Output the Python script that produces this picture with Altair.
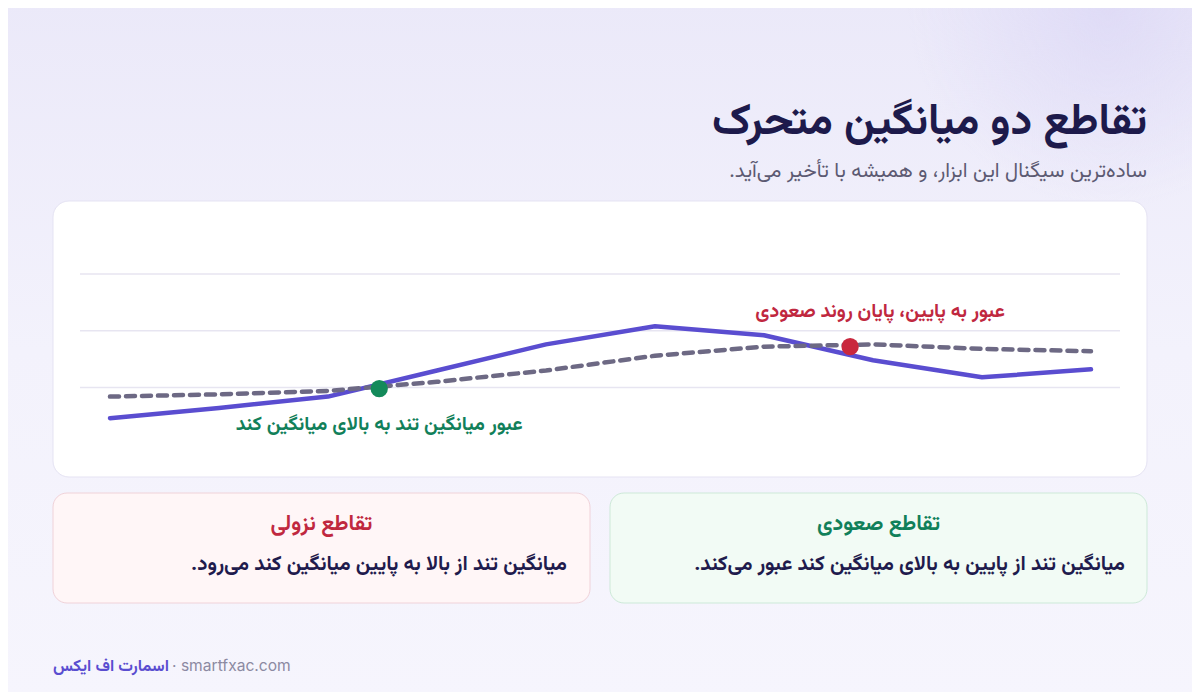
import altair as alt
import pandas as pd

# ---- data ----
step = list(range(10))
fast_ma = [97.3, 98.2, 99.2, 101.5, 103.8, 105.4, 104.6, 102.4, 100.9, 101.6]
slow_ma = [99.2, 99.4, 99.7, 100.5, 101.5, 102.8, 103.6, 103.8, 103.4, 103.2]
grid_levels = [100, 105, 110]
cross_step = [2.47, 6.79]
cross_value = [99.9, 103.6]
cross_kind = ["up", "down"]

title_text = "تقاطع دو میانگین متحرک"
subtitle_text = "ساده‌ترین سیگنال این ابزار، و همیشه با تأخیر می‌آید.\u200f"
label_up = "عبور میانگین تند به بالای میانگین کند"
label_down = "عبور به پایین، پایان روند صعودی"
card_down_title = "تقاطع نزولی"
card_down_body = "میانگین تند از بالا به پایین میانگین کند می‌رود.\u200f"
card_up_title = "تقاطع صعودی"
card_up_body = "میانگین تند از پایین به بالای میانگین کند عبور می‌کند.\u200f"
brand = "اسمارت اف ایکس"
domain_txt = "· smartfxac.com"

FONT = "Vazirmatn, 'Noto Sans Arabic', 'DejaVu Sans', sans-serif"
LATIN = "Inter, Roboto, sans-serif"
W, H = 1184, 684

one = pd.DataFrame({"k": [0]})
lines_df = pd.DataFrame({"step": step, "fast": fast_ma, "slow": slow_ma})
grid_df = pd.DataFrame({"level": grid_levels})
cross_df = pd.DataFrame({"step": cross_step, "value": cross_value, "kind": cross_kind})

xs = alt.Scale(domain=[0, 9], range=[102, 1083], nice=False, zero=False)
ys = alt.Scale(domain=[100, 110], range=[379.5, 266], nice=False, zero=False)

def box(x1, x2, y1, y2, fill, stroke=None, r=0, sw=1):
    kw = dict(fill=fill, cornerRadius=r)
    if stroke:
        kw.update(stroke=stroke, strokeWidth=sw)
    return alt.Chart(one).mark_rect(**kw).encode(
        x=alt.value(x1), x2=alt.value(x2), y=alt.value(y1), y2=alt.value(y2))

def txt(s, x, y, size, color, weight="bold", align="right", font=FONT, baseline="middle"):
    return alt.Chart(one).mark_text(
        text=s, font=font, fontSize=size, fontWeight=weight, color=color,
        align=align, baseline=baseline).encode(x=alt.value(x), y=alt.value(y))

bg = box(-10, W + 10, -10, H + 10, alt.LinearGradient(
    gradient="linear",
    stops=[alt.GradientStop(color="#ebe9f9", offset=0),
           alt.GradientStop(color="#f3f2fc", offset=0.5),
           alt.GradientStop(color="#f6f5fd", offset=1)],
    x1=0, x2=0, y1=0, y2=1))
blob = box(900, 1300, -200, 200, alt.RadialGradient(
    gradient="radial",
    stops=[alt.GradientStop(color="rgba(222,218,246,0.9)", offset=0),
           alt.GradientStop(color="rgba(222,218,246,0)", offset=1)],
    x1=0.5, y1=0.5, r1=0, x2=0.5, y2=0.5, r2=0.5))

card_chart = box(45, 1139, 193, 469, "#ffffff", "#e5e3f3", 16, 1)
card_down = box(45, 582, 485, 595, "#fff6f7", "#f0d2d9", 14, 1)
card_up = box(602, 1139, 485, 595, "#f2fbf5", "#cde9d8", 14, 1)

grid = alt.Chart(grid_df).mark_rule(color="#e7e5f1", strokeWidth=1.5).encode(
    y=alt.Y("level:Q", scale=ys, axis=None),
    x=alt.value(72), x2=alt.value(1112))

fast_line = alt.Chart(lines_df).mark_line(
    color="#5a4dd0", strokeWidth=4.5, strokeJoin="round", strokeCap="round").encode(
    x=alt.X("step:Q", scale=xs, axis=None),
    y=alt.Y("fast:Q", scale=ys, axis=None))
slow_line = alt.Chart(lines_df).mark_line(
    color="#6d6984", strokeWidth=4.5, strokeDash=[9, 7], strokeCap="round",
    strokeJoin="round").encode(
    x=alt.X("step:Q", scale=xs, axis=None),
    y=alt.Y("slow:Q", scale=ys, axis=None))

dots = alt.Chart(cross_df).mark_circle(size=300, opacity=1).encode(
    x=alt.X("step:Q", scale=xs, axis=None),
    y=alt.Y("value:Q", scale=ys, axis=None),
    color=alt.Color("kind:N", scale=alt.Scale(domain=["up", "down"],
                                              range=["#138a5a", "#c9283e"]),
                    legend=None))

lab_up = alt.Chart(cross_df[cross_df.kind == "up"]).mark_text(
    text=label_up, font=FONT, fontSize=19.5, fontWeight="bold", color="#11805a",
    align="center", baseline="middle", dy=35).encode(
    x=alt.X("step:Q", scale=xs, axis=None), y=alt.Y("value:Q", scale=ys, axis=None))
lab_down = alt.Chart(cross_df[cross_df.kind == "down"]).mark_text(
    text=label_down, font=FONT, fontSize=19.5, fontWeight="bold", color="#c0283f",
    align="center", baseline="middle", dx=30, dy=-36).encode(
    x=alt.X("step:Q", scale=xs, axis=None), y=alt.Y("value:Q", scale=ys, axis=None))

title = txt(title_text, 1139, 126, 43.5, "#1d1a4b", baseline="alphabetic")
subtitle = txt(subtitle_text, 1139, 169, 20.5, "#5c5a72", weight="normal", baseline="alphabetic")

t_down = txt(card_down_title, 313.5, 516, 21.5, "#c0283f", align="center")
b_down = txt(card_down_body, 559, 556, 20.5, "#1f1b4d")
t_up = txt(card_up_title, 870.5, 516, 21.5, "#11805a", align="center")
b_up = txt(card_up_body, 1117, 556, 20.5, "#1f1b4d")

f_brand = txt(brand, 45, 658, 16.4, "#5a4dd0", align="left")
f_dom = txt(domain_txt, 164, 658, 15.6, "#8c8aa2", weight="normal", align="left", font=LATIN)

chart = alt.layer(
    bg, blob, title, subtitle, card_chart, grid, fast_line, slow_line, dots,
    lab_up, lab_down, card_down, card_up, t_down, b_down, t_up, b_up, f_brand, f_dom
).properties(
    width=W, height=H, padding=0, autosize=alt.AutoSizeParams(type="none"),
    background="#f3f2fc"
).configure_view(stroke=None)

chart.save("out.html", embed_options={"renderer": "svg", "actions": False})
